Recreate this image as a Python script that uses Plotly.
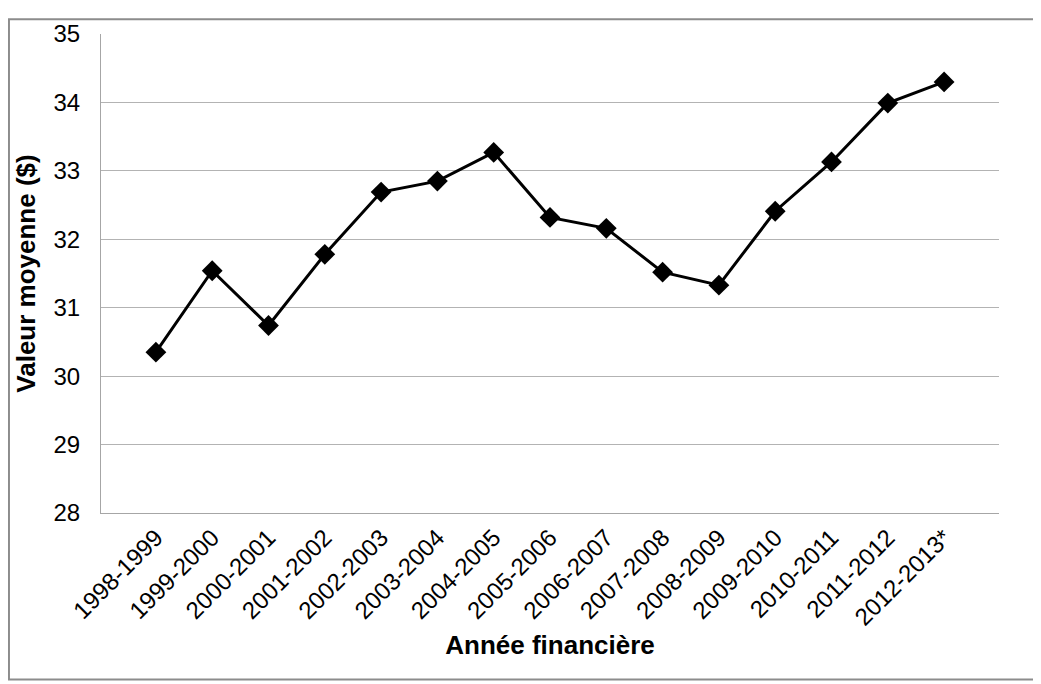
import plotly.graph_objects as go

# Années financières et valeur moyenne ($)
annees = ["1998-1999", "1999-2000", "2000-2001", "2001-2002", "2002-2003",
          "2003-2004", "2004-2005", "2005-2006", "2006-2007", "2007-2008",
          "2008-2009", "2009-2010", "2010-2011", "2011-2012", "2012-2013*"]
valeurs = [30.35, 31.54, 30.74, 31.78, 32.69, 32.85, 33.27, 32.32, 32.16,
           31.52, 31.33, 32.41, 33.13, 33.99, 34.30]
y_ticks = [28, 29, 30, 31, 32, 33, 34, 35]

police = "Liberation Sans, Arial, sans-serif"

fig = go.Figure()
fig.add_trace(go.Scatter(x=annees, y=valeurs, mode="lines+markers",
                         line=dict(color="black", width=3),
                         marker=dict(symbol="diamond", size=16, color="black"),
                         showlegend=False))

# la page ajoute une marge de 8 px autour du graphique
fig.update_layout(
    width=1033, height=676,
    margin=dict(l=93, r=42, t=16, b=171),
    plot_bgcolor="white", paper_bgcolor="white",
    font=dict(family=police, size=24, color="black"),
    xaxis=dict(title=dict(text="<b>Année financière</b>", font=dict(size=26), standoff=6),
               tickangle=-45, tickfont=dict(size=24), showgrid=False,
               showline=True, linecolor="#a6a6a6", linewidth=1, ticks=""),
    yaxis=dict(title=dict(text="<b>Valeur moyenne ($)</b>", font=dict(size=26), standoff=10),
               range=[28, 35], tickvals=y_ticks, showgrid=True, gridcolor="#b3b3b3",
               gridwidth=1, showline=True, linecolor="#a6a6a6", linewidth=1,
               ticks="", ticklabelstandoff=15, zeroline=False),
    shapes=[dict(type="rect", xref="paper", yref="paper",
                 x0=-0.1025, x1=1.0445, y0=-0.3476, y1=1.0307,
                 line=dict(color="#8c8c8c", width=2))],
)

fig.write_html("out.html")
